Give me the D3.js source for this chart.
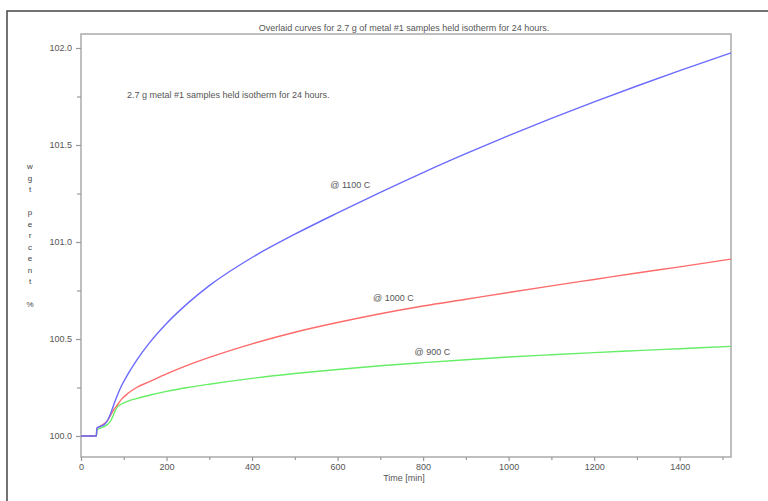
<!DOCTYPE html>
<html><head><meta charset="utf-8">
<script src="https://cdn.jsdelivr.net/npm/d3@7"></script>
<style>
html,body{margin:0;padding:0;background:#fff;}
svg text{font-family:"Liberation Sans Narrow","Arial Narrow","Liberation Sans",sans-serif;fill:#555;}
</style></head><body>
<svg id="c" width="768" height="501"></svg>
<script>
const times = [0, 36, 37, 45, 55, 62, 70, 78, 85, 95, 110, 130, 160, 200, 250, 300, 400, 500, 600, 700, 800, 900, 1000, 1100, 1200, 1300, 1400, 1520];
const v1100 = [100.00,100.00,100.04,100.05,100.06,100.08,100.12,100.17,100.21,100.26,100.32,100.39,100.48,100.58,100.685,100.775,100.92,101.04,101.15,101.256,101.358,101.455,101.548,101.637,101.722,101.804,101.883,101.975];
const v1000 = [100.00,100.00,100.04,100.05,100.065,100.08,100.11,100.14,100.16,100.19,100.22,100.25,100.28,100.32,100.365,100.405,100.475,100.535,100.585,100.63,100.67,100.705,100.74,100.774,100.807,100.84,100.872,100.912];
const v900 = [100.00,100.00,100.03,100.04,100.05,100.06,100.08,100.12,100.15,100.165,100.18,100.193,100.21,100.23,100.25,100.267,100.297,100.322,100.343,100.362,100.378,100.393,100.407,100.419,100.43,100.44,100.45,100.462];
const seriesNames = ["@ 1100 C", "@ 1000 C", "@ 900 C"];
const seriesColors = ["#6b6bff", "#ff6b6b", "#66ee66"];
const labelPos = [[583, 101.29], [683, 100.71], [780, 100.43]];
const xTicks = [0, 200, 400, 600, 800, 1000, 1200, 1400];
const xMinor = [100, 300, 500, 700, 900, 1100, 1300, 1500];
const yTicks = [100.0, 100.5, 101.0, 101.5, 102.0];
const yMinor = [100.25, 100.75, 101.25, 101.75];
const title = "Overlaid curves for 2.7 g of metal #1 samples held isotherm for 24 hours.";
const note = "2.7 g metal #1 samples held isotherm for 24 hours.";
const yLabel = "wgt percent %";
const xLabel = "Time [min]";

const svg = d3.select("#c");
const L = 81, T = 34, R = 731, B = 457;
const x = d3.scaleLinear().domain([0, 1520]).range([L, R]);
const y = d3.scaleLinear().domain([100, 102]).range([436, 48]);

// outer border
svg.append("path").attr("d", "M7,501V11H768").attr("fill", "none").attr("stroke", "#444").attr("stroke-width", 1.5);

// frame
svg.append("rect").attr("x", L).attr("y", T).attr("width", R - L).attr("height", B - T)
  .attr("fill", "none").attr("stroke", "#aaa").attr("stroke-width", 1.5);

// axes
const gx = svg.append("g").attr("transform", `translate(0,${B})`)
  .call(d3.axisBottom(x).tickValues(xTicks).tickFormat(d3.format("d")).tickSize(4).tickSizeOuter(0));
const gxm = svg.append("g").attr("transform", `translate(0,${B})`)
  .call(d3.axisBottom(x).tickValues(xMinor).tickFormat("").tickSize(3).tickSizeOuter(0));
const gy = svg.append("g").attr("transform", `translate(${L},0)`)
  .call(d3.axisLeft(y).tickValues(yTicks).tickFormat(d3.format(".1f")).tickSize(5).tickSizeOuter(0));
const gym = svg.append("g").attr("transform", `translate(${L},0)`)
  .call(d3.axisLeft(y).tickValues(yMinor).tickFormat("").tickSize(4).tickSizeOuter(0));
[gx, gxm, gy, gym].forEach(g => {
  g.select(".domain").remove();
  g.selectAll(".tick line").attr("stroke", "#999").attr("stroke-width", 1.2);
  g.selectAll(".tick text").attr("font-size", 9).style("fill", "#555")
   .attr("font-family", "'Liberation Sans Narrow','Liberation Sans',sans-serif");
});
gy.selectAll(".tick text").attr("dx", "-1px");

// lines
const seriesVals = [v1100, v1000, v900];
const line = d3.line().x((d, i) => x(times[i])).y(d => y(d)).curve(d3.curveMonotoneX);
[2, 1, 0].forEach(k => {
  svg.append("path").datum(seriesVals[k]).attr("d", line)
    .attr("fill", "none").attr("stroke", seriesColors[k]).attr("stroke-width", 1.4);
});

// series labels
seriesNames.forEach((n, k) => {
  svg.append("text").attr("x", x(labelPos[k][0])).attr("y", y(labelPos[k][1]))
    .attr("font-size", 9).attr("dominant-baseline", "middle").text(n);
});

// titles
svg.append("text").attr("x", 404).attr("y", 31).attr("text-anchor", "middle").attr("font-size", 9).text(title);
svg.append("text").attr("x", 127).attr("y", 98).attr("font-size", 9).text(note);
svg.append("text").attr("x", 404).attr("y", 481).attr("text-anchor", "middle").attr("font-size", 9).text(xLabel);

// vertical stacked y label
yLabel.split("").forEach((ch, i) => {
  if (ch === " ") return;
  svg.append("text").attr("x", 30).attr("y", 167 + i * 11.5).attr("text-anchor", "middle")
    .attr("dominant-baseline", "middle").attr("font-size", 8).style("fill", "#444").text(ch);
});
</script></body></html>
